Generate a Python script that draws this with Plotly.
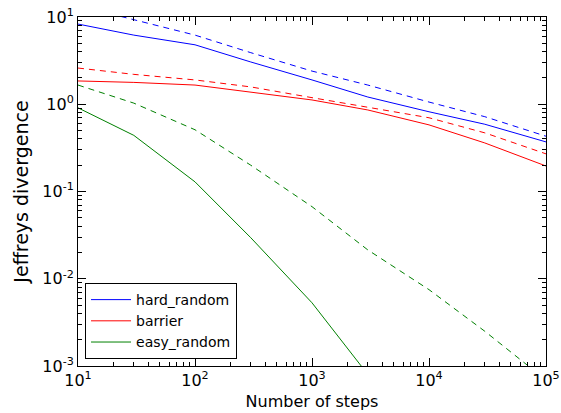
import plotly.graph_objects as go

steps = [10, 30, 100, 300, 1000, 3000, 10000, 30000, 100000]

hard_random_solid = [8.3, 6.2, 4.8, 3.05, 1.9, 1.21, 0.82, 0.59, 0.37]
hard_random_dashed = [13.5, 9.3, 6.2, 3.9, 2.4, 1.66, 1.06, 0.72, 0.43]
barrier_solid = [1.85, 1.78, 1.66, 1.38, 1.12, 0.86, 0.58, 0.36, 0.196]
barrier_dashed = [2.6, 2.2, 1.9, 1.58, 1.19, 0.93, 0.70, 0.47, 0.27]
easy_steps = [10, 30, 100, 300, 1000, 3000]
easy_random_solid = [0.91, 0.44, 0.129, 0.0295, 0.0053, 0.0008]
easy_random_dashed = [1.66, 1.03, 0.51, 0.20, 0.067, 0.0214, 0.0075, 0.0025, 0.00069]

x_tickvals = [10, 100, 1000, 10000, 100000]
x_ticktext = ["10<sup>1</sup>", "10<sup>2</sup>", "10<sup>3</sup>", "10<sup>4</sup>", "10<sup>5</sup>"]
y_tickvals = [0.001, 0.01, 0.1, 1, 10]
y_ticktext = ["10<sup>-3</sup>", "10<sup>-2</sup>", "10<sup>-1</sup>", "10<sup>0</sup>", "10<sup>1</sup>"]

BLUE = "#0000ff"
RED = "#ff0000"
GREEN = "#008000"
DASH = "6px,5px"

fig = go.Figure()
fig.add_trace(go.Scatter(x=steps, y=hard_random_solid, mode="lines", name="hard_random",
                         line=dict(color=BLUE, width=1)))
fig.add_trace(go.Scatter(x=steps, y=barrier_solid, mode="lines", name="barrier",
                         line=dict(color=RED, width=1)))
fig.add_trace(go.Scatter(x=easy_steps, y=easy_random_solid, mode="lines", name="easy_random",
                         line=dict(color=GREEN, width=1)))
fig.add_trace(go.Scatter(x=steps, y=hard_random_dashed, mode="lines", showlegend=False,
                         line=dict(color=BLUE, width=1, dash=DASH)))
fig.add_trace(go.Scatter(x=steps, y=barrier_dashed, mode="lines", showlegend=False,
                         line=dict(color=RED, width=1, dash=DASH)))
fig.add_trace(go.Scatter(x=steps, y=easy_random_dashed, mode="lines", showlegend=False,
                         line=dict(color=GREEN, width=1, dash=DASH)))

axis_common = dict(
    type="log", showgrid=False, zeroline=False, showline=True, linecolor="black",
    linewidth=1, mirror="allticks", ticks="inside", ticklen=8, tickcolor="black",
    automargin=False, ticklabeloverflow="allow",
    tickfont=dict(family="DejaVu Sans", size=16, color="black"),
    minor=dict(ticks="inside", ticklen=4, tickcolor="black", dtick="D1", showgrid=False),
)

fig.update_xaxes(range=[1, 5], tickmode="array", tickvals=x_tickvals, ticktext=x_ticktext,
                 title=dict(text="Number of steps", standoff=6,
                            font=dict(family="DejaVu Sans", size=16, color="black")),
                 **axis_common)
fig.update_yaxes(range=[-3, 1], tickmode="array", tickvals=y_tickvals, ticktext=y_ticktext,
                 title=dict(text="Jeffreys divergence", standoff=8,
                            font=dict(family="DejaVu Sans", size=19, color="black")),
                 **axis_common)

fig.update_layout(
    width=561, height=413,
    margin=dict(l=78, r=15, t=17, b=47),
    plot_bgcolor="white", paper_bgcolor="white",
    font=dict(family="DejaVu Sans", color="black"),
    legend=dict(x=0.015, y=0.02, xanchor="left", yanchor="bottom",
                bgcolor="white", bordercolor="black", borderwidth=1,
                font=dict(family="DejaVu Sans", size=14, color="black"),
                tracegroupgap=0, itemwidth=40),
)

# remove the default 8px page margin so the figure sits at the window's top-left
fig.write_html("out.html", config={"displayModeBar": False},
               post_script="document.body.style.margin='0px';")
